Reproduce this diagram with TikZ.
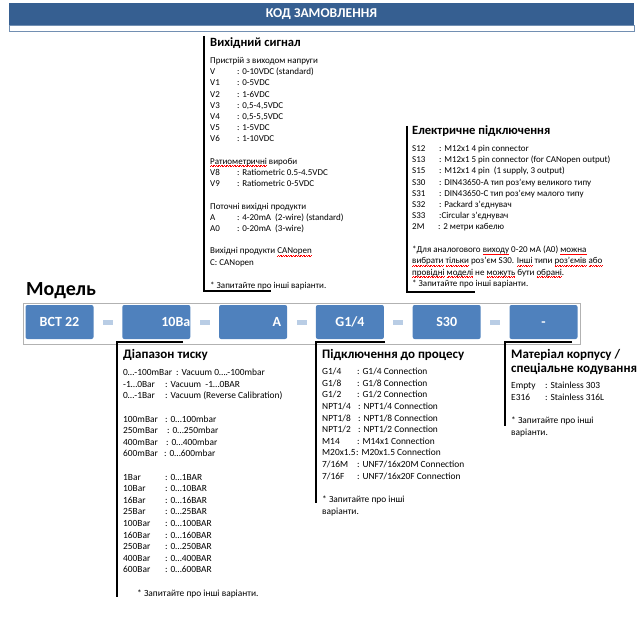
\documentclass[tikz,border=0pt]{standalone}
\usepackage{fontspec}
\setmainfont{Carlito}
\definecolor{barblue}{HTML}{365F91}
\definecolor{boxblue}{HTML}{4F81BD}
\definecolor{sepblue}{HTML}{B9CDE5}
% red wavy mark under words, as in the source
\newsavebox{\splbox}
\newcommand{\wv}{\hbox{\textcolor{red}{\rule[-2.1pt]{0.8pt}{0.45pt}\rule[-1.6pt]{0.8pt}{0.45pt}}}}
\newcommand{\spl}[1]{\sbox{\splbox}{#1}\rlap{\hbox to \wd\splbox{\xleaders\wv\hfill}}\usebox{\splbox}}
\newcommand{\itm}[3][27pt]{\makebox[#1][l]{#2}#3}
\newcommand{\fl}{\rule{0pt}{8pt}}
\begin{document}
\begin{tikzpicture}[x=1pt, y=-1pt,
    hd/.style={anchor=west, inner sep=0pt, font=\fontsize{12.6}{15}\selectfont\bfseries},
    hdb/.style={hd, font=\fontsize{13}{14}\selectfont\bfseries},
    body/.style={anchor=north west, inner sep=0pt, align=left, font=\fontsize{9}{11.2}\selectfont},
    bodyb/.style={body, font=\fontsize{9.4}{11.6}\selectfont},
    brk/.style={line width=1.4pt},
    code/.style={fill=boxblue, rounded corners=2pt, text=white, minimum width=68pt,
      minimum height=34pt, inner sep=0pt, text height=9.5pt, text depth=0pt,
      font=\fontsize{14}{16}\selectfont\bfseries},
    sep/.style={fill=sepblue, minimum width=10pt, minimum height=5pt, inner sep=0pt}]
  \useasboundingbox (0,0) rectangle (640,631);
  % title bar
  \fill[barblue] (9,3) rectangle (634,25);
  \draw[barblue!70, line width=0.8pt] (9,25) rectangle (634,31);
  \node[font=\fontsize{13.5}{15}\selectfont\bfseries, text=white, inner sep=0pt] (title) at (321.5,14) {КОД ЗАМОВЛЕННЯ};
  % output signal
  \draw[brk] (204,36) -- (204,291) -- (271,291);
  \node[hd] (sigh) at (210,43) {Вихідний сигнал};
  \node[body] (sigb) at (210,55.3) {\fl Пристрій з виходом напруги\\
    \itm{V}{: 0-10VDC (standard)}\\
    \itm{V1}{: 0-5VDC}\\
    \itm{V2}{: 1-6VDC}\\
    \itm{V3}{: 0,5-4,5VDC}\\
    \itm{V4}{: 0,5-5,5VDC}\\
    \itm{V5}{: 1-5VDC}\\
    \itm{V6}{: 1-10VDC}\\[11.2pt]
    \spl{Ратиометричні} вироби\\
    \itm{V8}{: Ratiometric 0.5-4.5VDC}\\
    \itm{V9}{: Ratiometric 0-5VDC}\\[11.2pt]
    Поточні вихідні продукти\\
    \itm{A}{: 4-20mA\ \ (2-wire) (standard)}\\
    \itm{A0}{: 0-20mA\ \ (3-wire)}\\[11.2pt]
    Вихідні продукти \spl{CANopen}\\
    C: CANopen\\[12pt]
    * Запитайте про інші варіанти.};
  % electrical connection
  \draw[brk] (407,126) -- (407,292) -- (475,292);
  \node[hd] (elh) at (412,131) {Електричне підключення};
  \node[body] (elb) at (412,143.3) {\fl\itm{S12}{: M12x1 4 pin connector}\\
    \itm{S13}{: M12x1 5 pin connector (for CANopen output)}\\
    \itm{S15}{: M12x1 4 pin\ \ (1 supply, 3 output)}\\
    \itm{S30}{: DIN43650-A тип роз’єму великого типу}\\
    \itm{S31}{: DIN43650-C тип роз’єму малого типу}\\
    \itm{S32}{: Packard з’єднувач}\\
    \itm{S33}{:Circular з’єднувач}\\
    \itm[26pt]{2M}{: 2 метри кабелю}\\[11.6pt]
    *Для аналогового \spl{виходу} 0-20 мА (А0) \spl{можна}\\
    \spl{вибрати} \spl{тільки} роз’єм S30. \spl{Інші} типи \spl{роз’ємів} \spl{або}\\
    \spl{провідні} \spl{моделі} не \spl{можуть} бути \spl{обрані}.\\
    * Запитайте про інші варіанти.};
  % model row
  \node[anchor=west, inner sep=0pt, font=\fontsize{20}{23}\selectfont\bfseries] (model) at (26,291) {Модель};
  \draw[gray!60, line width=0.8pt] (23,303) rectangle (580,344);
  \node[code] (m1) at (59.5,322) {BCT 22};
  \node[code, text width=68pt, align=right] (m2) at (156.3,322) {10Ba};
  \node[code, text width=56pt, inner xsep=6pt, align=right] (m3) at (253.1,322) {A};
  \node[code] (m4) at (349.9,322) {G1/4};
  \node[code] (m5) at (446.7,322) {S30};
  \node[code] (m6) at (543.5,322) {-};
  \foreach \i in {1,...,5}
    \node[sep] (s\i) at ({11.1+96.8*\i},322) {};
  % pressure range
  \draw[brk] (183,342) -- (117,342) -- (117,597);
  \node[hdb] (rngh) at (123,355) {Діапазон тиску};
  \node[bodyb] (rngb) at (123,367.4) {\fl\itm[53pt]{0…-100mBar}{: Vacuum 0….-100mbar}\\
    \itm[42pt]{-1…0Bar}{: Vacuum\ \ -1…0BAR}\\
    \itm[42pt]{0…-1Bar}{: Vacuum (Reverse Calibration)}\\[11.6pt]
    \itm[42pt]{100mBar}{: 0…100mbar}\\
    \itm[44pt]{250mBar}{: 0…250mbar}\\
    \itm[43pt]{400mBar}{: 0…400mbar}\\
    \itm[41pt]{600mBar}{: 0…600mbar}\\[11.6pt]
    \itm[42pt]{1Bar}{: 0…1BAR}\\
    \itm[42pt]{10Bar}{: 0…10BAR}\\
    \itm[42pt]{16Bar}{: 0…16BAR}\\
    \itm[42pt]{25Bar}{: 0…25BAR}\\
    \itm[42pt]{100Bar}{: 0…100BAR}\\
    \itm[42pt]{160Bar}{: 0…160BAR}\\
    \itm[42pt]{250Bar}{: 0…250BAR}\\
    \itm[42pt]{400Bar}{: 0…400BAR}\\
    \itm[42pt]{600Bar}{: 0…600BAR}\\[12pt]
    \hspace*{14pt}* Запитайте про інші варіанти.};
  % process connection
  \draw[brk] (385,342) -- (316,342) -- (316,503);
  \node[hdb] (prch) at (322,355) {Підключення до процесу};
  \node[bodyb] (prcb) at (322,366.4) {\fl\itm[35pt]{G1/4}{: G1/4 Connection}\\
    \itm[35pt]{G1/8}{: G1/8 Connection}\\
    \itm[35pt]{G1/2}{: G1/2 Connection}\\
    \itm[36pt]{NPT1/4}{: NPT1/4 Connection}\\
    \itm[36pt]{NPT1/8}{: NPT1/8 Connection}\\
    \itm[36pt]{NPT1/2}{: NPT1/2 Connection}\\
    \itm[35pt]{M14}{: M14x1 Connection}\\
    \itm[34pt]{M20x1.5}{: M20x1.5 Connection}\\
    \itm[35pt]{7/16M}{: UNF7/16x20M Connection}\\
    \itm[35pt]{7/16F}{: UNF7/16x20F Connection}\\[12pt]
    * Запитайте про інші\\
    варіанти.};
  % housing material
  \draw[brk] (572,342) -- (505,342) -- (505,426);
  \node[hdb, align=left] (math) at (511,362) {Матеріал корпусу /\\спеціальне кодування};
  \node[bodyb] (matb) at (511,380.4) {\fl\itm[34pt]{Empty}{: Stainless 303}\\
    \itm[34pt]{E316}{: Stainless 316L}\\[11.6pt]
    * Запитайте про інші\\
    варіанти.};
\end{tikzpicture}
\end{document}
